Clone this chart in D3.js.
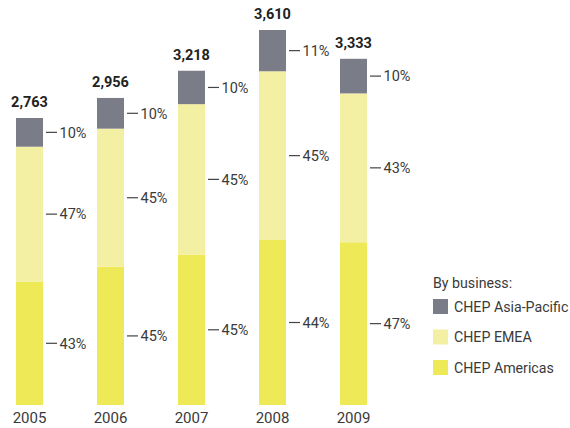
<!DOCTYPE html>
<html><head><meta charset="utf-8">
<script src="https://cdn.jsdelivr.net/npm/d3@7"></script>
<style>body{margin:0;background:#fff;}svg{display:block;}text{font-family:"Roboto","Noto Sans",sans-serif;}</style>
</head><body><div id="chart"></div>
<script>
const years = ["2005","2006","2007","2008","2009"];
const totals = [2763, 2956, 3218, 3610, 3333];
const americasPct = [43, 45, 45, 44, 47];
const emeaPct = [47, 45, 45, 45, 43];
const asiaPct = [10, 10, 10, 11, 10];
const seriesNames = ["CHEP Americas", "CHEP EMEA", "CHEP Asia-Pacific"];
const seriesColors = ["#ede957", "#f3f0a3", "#7a7d87"];

const W = 570, H = 428;
const svg = d3.select("#chart").append("svg").attr("width", W).attr("height", H);
const baseY = 405;
const xb = d3.scaleBand().domain(years).range([16, 16 + 81*4 + 27]).paddingInner(54/81).paddingOuter(0);
const y = d3.scaleLinear().domain([0, 2763]).range([baseY, 118]);

const pctSeries = [americasPct, emeaPct, asiaPct];
years.forEach((yr, i) => {
  let cum = 0;
  const bx = xb(yr), bw = xb.bandwidth();
  pctSeries.forEach((ps, s) => {
    const v0 = totals[i] * cum / 100;
    cum += ps[i];
    const v1 = totals[i] * cum / 100;
    const my = (y(v0) + y(v1)) / 2;
    svg.append("rect").attr("x", bx).attr("width", bw)
      .attr("y", y(v1)).attr("height", y(v0) - y(v1)).attr("fill", seriesColors[s]);
    svg.append("line").attr("x1", bx + bw + 3).attr("x2", bx + bw + 14)
      .attr("y1", my).attr("y2", my).attr("stroke", "#444").attr("stroke-width", 1.2);
    svg.append("text").attr("x", bx + bw + 16.5).attr("y", my)
      .attr("dy", "0.36em").attr("font-size", 14.5).attr("fill", "#3a3a3a")
      .text(ps[i] + "%");
  });
  svg.append("text").attr("x", bx + bw / 2).attr("y", y(totals[i]) - 11)
    .attr("text-anchor", "middle").attr("font-size", 14.5).attr("font-weight", "bold")
    .attr("fill", "#222").text(d3.format(",")(totals[i]));
  svg.append("text").attr("x", bx + bw / 2).attr("y", 423)
    .attr("text-anchor", "middle").attr("font-size", 15).attr("fill", "#3a3a3a").text(yr);
});

// legend
const lg = svg.append("g");
lg.append("text").attr("x", 433).attr("y", 288).attr("font-size", 14.2).attr("fill", "#3a3a3a").text("By business:");
const legendOrder = [2, 1, 0];
legendOrder.forEach((s, k) => {
  const ly = 299 + k * 30.5;
  lg.append("rect").attr("x", 433).attr("y", ly).attr("width", 15).attr("height", 15).attr("fill", seriesColors[s]);
  lg.append("text").attr("x", 454).attr("y", ly + 7.5).attr("dy", "0.36em").attr("font-size", 14.2).attr("fill", "#3a3a3a").text(seriesNames[s]);
});
</script></body></html>
